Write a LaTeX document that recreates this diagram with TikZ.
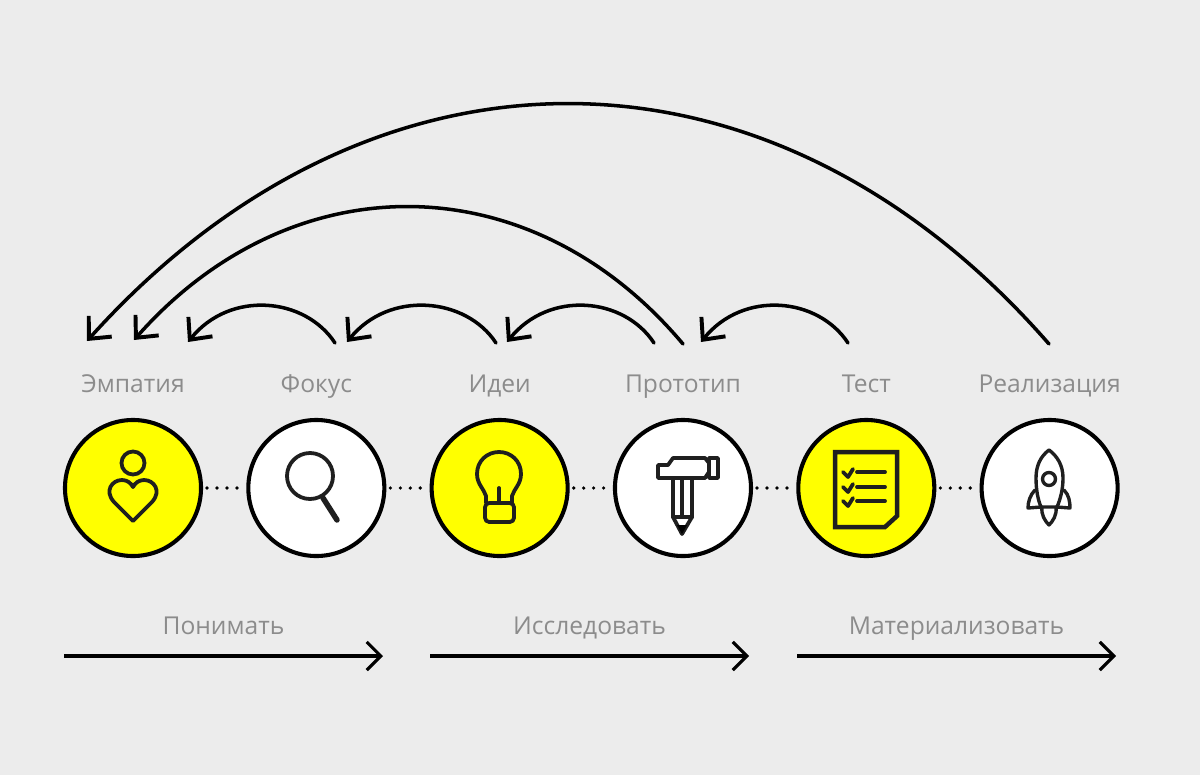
\documentclass[tikz,border=0pt]{standalone}
\usepackage{fontspec}
\setmainfont{Open Sans}
\usetikzlibrary{arrows.meta,positioning}
\definecolor{paper}{HTML}{ECECEC}
\definecolor{stagegray}{HTML}{8C8C8C}
\definecolor{lemon}{HTML}{FFFF00}
\begin{document}
\begin{tikzpicture}[
    x=0.025cm, y=-0.025cm,
    stage/.style={circle, draw=black, minimum size=3.4cm, inner sep=0pt, line width=2.9pt},
    title/.style={text=stagegray, font=\fontsize{17.5}{20}\selectfont, text height=13pt, text depth=4.5pt, inner sep=0pt},
    dots/.style={line width=2.6pt, line cap=round, dash pattern=on 0pt off 7.09pt, dash phase=4.25pt},
    back/.style={line width=2.5pt, line cap=round, -{Straight Barb[length=12pt, width=22pt, line width=2.8pt]}},
    phase/.style={line width=2.2pt, -{Straight Barb[length=10pt, width=20pt, line width=2.2pt]}},
    icon/.style={line width=2.7pt, line cap=round, line join=round, draw=black!88}
]
    \fill[paper] (0,0) rectangle (1200,775);
    \useasboundingbox (0,0) rectangle (1200,775);

    % stages
    \node[stage, fill=lemon] (empathy) at (133,488) {};
    \node[stage, fill=white, right=1.08cm of empathy] (focus) {};
    \node[stage, fill=lemon, right=1.08cm of focus] (ideas) {};
    \node[stage, fill=white, right=1.08cm of ideas] (proto) {};
    \node[stage, fill=lemon, right=1.08cm of proto] (test) {};
    \node[stage, fill=white, right=1.08cm of test] (launch) {};

    \draw[dots] (empathy.east) -- (focus.west);
    \draw[dots] (focus.east) -- (ideas.west);
    \draw[dots] (ideas.east) -- (proto.west);
    \draw[dots] (proto.east) -- (test.west);
    \draw[dots] (test.east) -- (launch.west);

    \node[title, above=0.47cm of empathy] (empathylabel) {Эмпатия};
    \node[title, above=0.47cm of focus] (focuslabel) {Фокус};
    \node[title, above=0.47cm of ideas] (ideaslabel) {Идеи};
    \node[title, above=0.47cm of proto] (protolabel) {Прототип};
    \node[title, above=0.47cm of test] (testlabel) {Тест};
    \node[title, above=0.47cm of launch] (launchlabel) {Реализация};

    % ends of the return arcs
    \coordinate (tipa) at (87,341);
    \coordinate (tipb) at (134,340);
    \coordinate (tipc) at (188,342);
    \coordinate (tipd) at (347,342);
    \coordinate (tipe) at (507,342);
    \coordinate (tipf) at (701,342);
    \coordinate (fromfocus) at (335,343);
    \coordinate (fromideas) at (496,343);
    \coordinate (fromproto) at (654,343);
    \coordinate (fromprotob) at (683,344);
    \coordinate (fromtest) at (848,343);
    \coordinate (fromlaunch) at (1049,344);

    \draw[back] (fromfocus) .. controls (305,297) and (230,290) .. (tipc);
    \draw[back] (fromideas) .. controls (466,297) and (389,290) .. (tipd);
    \draw[back] (fromproto) .. controls (624,297) and (549,290) .. (tipe);
    \draw[back] (fromtest) .. controls (818,297) and (743,290) .. (tipf);
    \draw[back] (fromprotob) .. controls (530,162) and (291,162) .. (tipb);
    \draw[back] (fromlaunch) .. controls (770,24) and (371,25) .. (tipa);

    % phases
    \coordinate (understanda) at (64,656);
    \coordinate (understandb) at (383,656);
    \coordinate (explorea) at (430,656);
    \coordinate (exploreb) at (749,656);
    \coordinate (makea) at (797,656);
    \coordinate (makeb) at (1116,656);
    \draw[phase] (understanda) -- node[title, above=0.35cm, midway] (understandlabel) {Понимать} (understandb);
    \draw[phase] (explorea) -- node[title, above=0.35cm, midway] (explorelabel) {Исследовать} (exploreb);
    \draw[phase] (makea) -- node[title, above=0.35cm, midway] (makelabel) {Материализовать} (makeb);

    % heart
    \draw[icon] (133,463) circle (11.5);
    \draw[icon] (133,521) -- (114,502) .. controls (104,491) and (112,480) .. (122,480)
        .. controls (127,480) and (131,483) .. (133,487)
        .. controls (135,483) and (139,480) .. (144,480)
        .. controls (154,480) and (162,491) .. (152,502) -- cycle;
    % magnifier
    \draw[icon] (310,476) circle (23);
    \draw[icon, line width=3.9pt] (323,498) -- (337,520);
    % bulb
    \draw[icon] (486,503) -- (486,496) .. controls (484,489) and (477,484) .. (477,474)
        .. controls (477,461) and (487,452) .. (499,452)
        .. controls (511,452) and (521,461) .. (521,474)
        .. controls (521,484) and (514,489) .. (512,496) -- (512,503);
    \draw[icon] (499,488) -- (499,503);
    \draw[icon, rounded corners=3pt] (485,503) rectangle (514,522);
    % hammer
    \draw[icon] (658,465) -- (668,465) -- (673,458) -- (705,458) -- (709,463) -- (709,472) -- (705,478) -- (658,478) -- cycle;
    \draw[icon] (709,458) rectangle (718,478);
    \draw[icon] (673,478) -- (673,517) -- (682,534) -- (692,517) -- (692,478);
    \draw[icon] (682,478) -- (682,517);
    \draw[icon] (673,517) -- (692,517);
    \fill[black] (677,525) -- (687,525) -- (682,534) -- cycle;
    % checklist
    \draw[icon, line cap=butt, line join=miter, line width=3.2pt] (835,452) -- (897,452) -- (897,516) -- (885,527) -- (835,527) -- cycle;
    \draw[icon] (857,472) -- (885,472);
    \draw[icon] (857,487) -- (885,487);
    \draw[icon] (857,501) -- (885,501);
    \draw[icon] (843,472) -- (848,477) -- (853,469);
    \draw[icon] (843,487) -- (848,492) -- (853,484);
    \draw[icon] (843,501) -- (848,506) -- (853,498);
    % rocket
    \draw[icon, line width=2.4pt] (1049,450) .. controls (1041,456) and (1036,465) .. (1036,478) .. controls (1036,490) and (1038,500) .. (1041,507)
        -- (1057,507) .. controls (1060,500) and (1063,490) .. (1063,478) .. controls (1063,465) and (1057,456) .. (1049,450) -- cycle;
    \draw[icon, line width=2.4pt] (1049,479) circle (6.5);
    \draw[icon, line width=2.4pt] (1035,490) .. controls (1030,495) and (1028,502) .. (1028,508) -- (1041,507);
    \draw[icon, line width=2.4pt] (1064,490) .. controls (1069,495) and (1070,502) .. (1070,508) -- (1057,507);
    \draw[icon, line width=2.4pt] (1042,507) .. controls (1041,515) and (1045,521) .. (1049,525) .. controls (1053,521) and (1057,515) .. (1056,507);
\end{tikzpicture}
\end{document}
